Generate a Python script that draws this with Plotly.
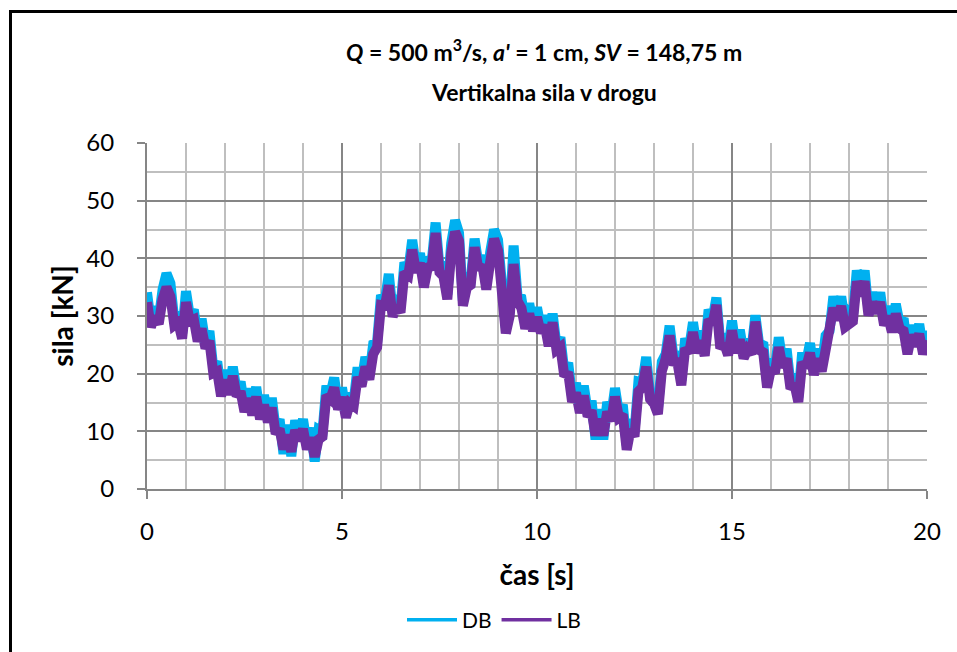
import plotly.graph_objects as go

time_s = [round(i * 0.1, 1) for i in range(201)]

db_kn = [
    34.1, 28.9, 31.6, 29.4, 34.6, 37.4, 35.7, 29.2, 30.6, 26.9,
    34.3, 29.9, 31.1, 26.4, 29.5, 25.2, 27.4, 20.9, 22.1, 16.9,
    20.6, 17.2, 21.2, 16.9, 18.6, 14.2, 17.4, 13.6, 17.7, 12.9,
    16.3, 12.4, 15.8, 10.4, 12.1, 6.1, 11.1, 5.7, 11.9, 9.2,
    12.1, 7.7, 10.6, 4.8, 10.3, 9.9, 17.9, 16.4, 19.3, 14.6,
    17.6, 13.2, 16.6, 15.2, 21.1, 18.6, 22.9, 19.8, 25.1, 25.4,
    33.6, 32.6, 37.3, 30.7, 33.5, 31.4, 39.3, 37.9, 43.2, 38.4,
    40.9, 35.8, 40.1, 39.4, 46.2, 38.4, 38.6, 33.7, 42.6, 46.6,
    44.4, 32.6, 36.6, 36.2, 43.4, 38.9, 40.5, 35.4, 41.1, 45.0,
    43.2, 32.8, 28.0, 30.8, 42.2, 33.4, 33.1, 28.6, 32.2, 28.2,
    31.5, 27.9, 30.1, 25.6, 30.4, 24.9, 26.3, 20.4, 21.9, 15.9,
    18.4, 14.0, 17.9, 13.4, 15.3, 8.6, 13.8, 8.6, 15.1, 12.6,
    17.5, 13.2, 14.6, 7.6, 12.1, 9.9, 18.6, 18.4, 22.9, 16.4,
    16.5, 13.8, 22.1, 23.4, 28.3, 22.9, 23.7, 18.8, 26.1, 24.4,
    28.9, 24.4, 27.4, 23.9, 31.1, 29.4, 33.2, 25.2, 26.9, 24.0,
    29.2, 24.4, 27.6, 23.5, 25.9, 24.2, 30.1, 24.9, 25.4, 18.4,
    22.6, 20.9, 26.3, 21.9, 24.3, 18.2, 19.9, 15.9, 23.7, 21.9,
    25.3, 20.6, 24.3, 21.2, 26.6, 27.4, 33.4, 30.1, 33.4, 28.9,
    30.6, 29.9, 37.9, 34.3, 37.9, 30.9, 34.1, 31.3, 34.1, 29.2,
    31.7, 28.0, 32.1, 28.6, 29.6, 24.2, 28.4, 25.6, 28.6, 24.2,
    27.5,
]

lb_kn = [
    32.4, 28.1, 29.9, 28.6, 32.9, 35.0, 33.4, 28.4, 28.9, 26.1,
    32.4, 29.1, 29.4, 25.6, 27.8, 24.4, 25.7, 20.1, 20.4, 16.1,
    18.9, 16.4, 19.6, 16.1, 16.9, 13.4, 15.7, 12.8, 16.0, 12.1,
    14.6, 11.6, 14.1, 9.6, 10.4, 6.9, 9.4, 6.5, 10.2, 8.4,
    10.4, 6.9, 8.9, 5.6, 8.6, 9.1, 16.2, 15.6, 17.6, 13.8,
    15.9, 12.4, 14.9, 14.4, 19.4, 17.8, 21.2, 19.0, 23.4, 24.6,
    31.9, 31.8, 35.3, 29.9, 31.8, 30.6, 37.6, 37.1, 41.5, 37.6,
    39.2, 35.0, 38.4, 38.6, 44.4, 37.6, 36.9, 32.9, 40.9, 44.6,
    43.0, 31.8, 34.9, 35.4, 41.9, 38.1, 38.8, 34.6, 39.4, 43.4,
    41.4, 32.0, 27.0, 30.0, 39.0, 32.6, 31.4, 27.8, 30.4, 27.4,
    29.8, 27.1, 28.4, 24.8, 28.9, 24.1, 24.6, 19.6, 20.2, 15.1,
    16.7, 13.2, 16.2, 12.6, 13.6, 9.3, 12.1, 9.3, 13.4, 11.8,
    16.0, 12.4, 12.9, 6.8, 10.4, 9.1, 16.9, 17.6, 21.2, 15.6,
    14.8, 13.0, 20.4, 22.6, 26.6, 22.1, 22.0, 18.0, 24.4, 23.6,
    27.2, 23.6, 25.7, 23.1, 29.4, 28.6, 31.9, 24.4, 25.2, 23.2,
    27.5, 23.6, 25.9, 22.7, 24.2, 23.4, 29.0, 24.1, 23.7, 17.6,
    20.9, 20.1, 24.6, 21.1, 22.6, 17.4, 18.2, 15.1, 22.0, 21.1,
    23.6, 19.8, 22.6, 20.4, 24.9, 26.6, 31.4, 29.3, 31.7, 28.1,
    28.9, 29.1, 36.0, 33.5, 36.0, 30.1, 32.4, 30.5, 32.4, 28.4,
    30.0, 27.2, 30.4, 27.8, 27.4, 23.4, 26.7, 24.8, 26.9, 23.4,
    25.8,
]

x_ticks = [0, 5, 10, 15, 20]
y_ticks = [0, 10, 20, 30, 40, 50, 60]
series_names = ["DB", "LB"]
series_colors = ["#00B0F0", "#7030A0"]
title_lines = [
    "<b><i>Q</i> = 500 m<sup>3</sup>/s, <i>a'</i> = 1 cm, <i>SV</i> = 148,75 m</b>",
    "<b>Vertikalna sila v drogu</b>",
]

FONT = "Lato, 'Open Sans', sans-serif"
MAJOR = "#868686"
MINOR = "#bfbfbf"

# plot area in pixels: x 147..927, y 143..489
L, R, T, B = 147, 927, 143, 489
W, H = R - L, B - T


def px_x(p):
    return (p - L) / W


def px_y(p):
    return (B - p) / H


fig = go.Figure()
for name, vals, col in zip(series_names, [db_kn, lb_kn], series_colors):
    # the dense signal is drawn as a thick band
    fig.add_trace(go.Scatter(
        x=time_s, y=vals, mode="lines", name=name, legendgroup=name,
        showlegend=False, line=dict(color=col, width=10),
    ))
for name, col in zip(series_names, series_colors):
    # legend key with the thinner line used in the original legend
    fig.add_trace(go.Scatter(
        x=[None], y=[None], mode="lines", name=name, legendgroup=name,
        showlegend=True, line=dict(color=col, width=3.5),
    ))

fig.update_layout(
    width=957, height=652,
    margin=dict(l=L, r=957 - R, t=T, b=652 - B),
    paper_bgcolor="white", plot_bgcolor="white",
    font=dict(family=FONT, size=24, color="black"),
    showlegend=True,
    legend=dict(
        orientation="h", x=px_x(494), xanchor="center", y=px_y(620), yanchor="middle",
        font=dict(family=FONT, size=21), bgcolor="rgba(0,0,0,0)",
        itemwidth=50, tracegroupgap=0,
    ),
    xaxis=dict(
        range=[0, 20], tickvals=x_ticks,
        showgrid=True, gridcolor=MAJOR, gridwidth=1.5,
        minor=dict(dtick=1, showgrid=True, gridcolor=MINOR, gridwidth=1.5),
        showline=True, linecolor=MAJOR, linewidth=2,
        ticks="outside", ticklen=8, tickcolor=MAJOR, tickwidth=1.5,
        ticklabelstandoff=12,
        zeroline=False,
        title=dict(text="<b>čas [s]</b>", font=dict(family=FONT, size=28), standoff=22),
        tickfont=dict(family=FONT, size=24),
    ),
    yaxis=dict(
        range=[0, 60], tickvals=y_ticks,
        showgrid=True, gridcolor=MAJOR, gridwidth=1.5,
        minor=dict(dtick=5, showgrid=True, gridcolor=MINOR, gridwidth=1.5),
        showline=True, linecolor=MAJOR, linewidth=2,
        ticks="outside", ticklen=8, tickcolor=MAJOR, tickwidth=1.5,
        ticklabelstandoff=18,
        zeroline=False,
        title=dict(text="<b>sila [kN]</b>", font=dict(family=FONT, size=28), standoff=5),
        tickfont=dict(family=FONT, size=24),
    ),
)

for text, yc in zip(title_lines, [50, 92]):
    fig.add_annotation(text=text, xref="paper", yref="paper",
                       x=px_x(544), y=px_y(yc), xanchor="center", yanchor="middle",
                       showarrow=False, font=dict(family=FONT, size=23, color="black"))

# outer chart border: only the left and top edges are inside the picture
fig.add_shape(type="line", xref="paper", yref="paper",
              x0=px_x(10.5), x1=px_x(10.5), y0=px_y(700), y1=px_y(10),
              line=dict(color="black", width=3), layer="below")
fig.add_shape(type="line", xref="paper", yref="paper",
              x0=px_x(9), x1=px_x(1000), y0=px_y(11.5), y1=px_y(11.5),
              line=dict(color="black", width=3), layer="below")

fig.write_html("out.html", config={"displayModeBar": False},
               post_script="document.body.style.margin='0px';")
